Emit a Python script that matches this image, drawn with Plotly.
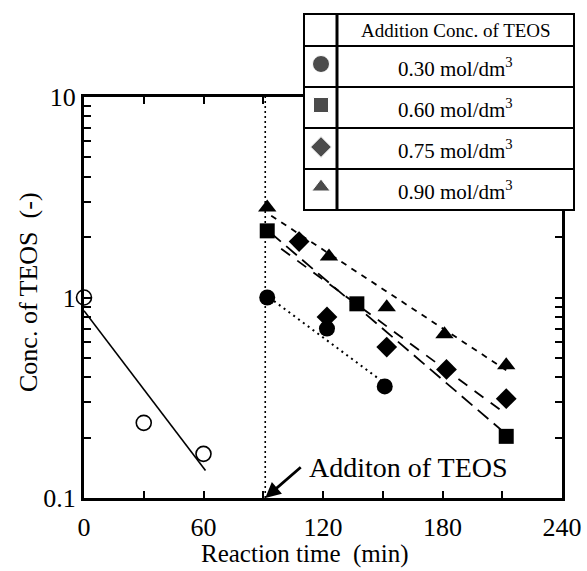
import math
import plotly.graph_objects as go

# ---------------- data ----------------
t_initial = [0, 30, 60]
c_initial = [1.0, 0.237, 0.166]
fit_initial_t = [0, 61]
fit_initial_c = [0.86, 0.137]

addition_t = [91, 91]
addition_c = [0.1, 10]

t_030 = [92, 122, 151]
c_030 = [1.0, 0.70, 0.36]
fit_030_t = [93, 150]
fit_030_c = [1.0, 0.38]

t_060 = [92, 137, 212]
c_060 = [2.15, 0.93, 0.203]
fit_060_t = [93.5, 211.5]
fit_060_c = [2.11, 0.21]

t_075 = [108, 122, 152, 182, 212]
c_075 = [1.90, 0.80, 0.566, 0.438, 0.313]
fit_075_t = [99, 211.5]
fit_075_c = [1.75, 0.264]

t_090 = [92, 123, 152, 181, 212]
c_090 = [2.81, 1.60, 0.895, 0.655, 0.459]
fit_090_t = [94, 212]
fit_090_c = [2.56, 0.434]

x_tick_vals = [0, 60, 120, 180, 240]
x_tick_text = ["0", "60", "120", "180", "240"]
y_tick_vals = [0.1, 1, 10]
y_tick_text = ["0.1", "1", "10"]

legend_header = "Addition Conc. of TEOS"
legend_conc = ["0.30", "0.60", "0.75", "0.90"]
legend_symbols = ["circle", "square", "diamond", "triangle-up"]

x_title = "Reaction time  (min)"
y_title = "Conc. of TEOS  (-)"
note_text = "Additon of TEOS"

# ---------------- figure ----------------
W, H = 587, 571
FONT = "Liberation Serif"
BLACK = "black"

fig = go.Figure()

def line(tx, cy, dash, width=1.6):
    fig.add_trace(go.Scatter(x=tx, y=cy, mode="lines",
                             line=dict(color=BLACK, width=width, dash=dash),
                             showlegend=False, hoverinfo="skip"))

def marks(tx, cy, symbol, size=15, color=BLACK, lw=0):
    fig.add_trace(go.Scatter(x=tx, y=cy, mode="markers",
                             marker=dict(symbol=symbol, size=size, color=color,
                                         line=dict(color=BLACK, width=lw)),
                             showlegend=False, cliponaxis=False))

line(addition_t, addition_c, "2px,3px", 1.6)
line(fit_initial_t, fit_initial_c, "solid", 1.6)
line(fit_030_t, fit_030_c, "2px,4px", 2)
line(fit_060_t, fit_060_c, "14px,7px", 1.8)
line(fit_075_t, fit_075_c, "11px,9px", 1.8)
line(fit_090_t, fit_090_c, "6px,6px", 1.8)

marks(t_initial, c_initial, "circle-open", 15, BLACK, 1.6)
marks(t_030, c_030, "circle", 16)
marks(t_060, c_060, "square", 15)
marks(t_075, c_075, "diamond", 16)
marks(t_090, c_090, "triangle-up", 16)

# legend-table markers on a pixel-coordinate overlay subplot
leg_x = 321
leg_rows = [64, 105, 147, 187]
fig.add_trace(go.Scatter(x=[leg_x] * len(legend_symbols), y=leg_rows, mode="markers",
                         marker=dict(symbol=legend_symbols, size=[17, 15, 16, 16], color=BLACK),
                         xaxis="x2", yaxis="y2", showlegend=False, hoverinfo="skip"))

px0, px1 = 84, 562
py_top, py_bot = 97, 498
y_minor = [m * 10 ** e for e in (-1, 0) for m in range(2, 10)]

fig.update_layout(
    width=W, height=H,
    margin=dict(l=0, r=0, t=0, b=0, autoexpand=False),
    paper_bgcolor="white", plot_bgcolor="rgba(0,0,0,0)",
    font=dict(family=FONT, color=BLACK),
    showlegend=False,
    xaxis=dict(domain=[px0 / W, px1 / W], range=[0, 240],
               tickmode="array", tickvals=x_tick_vals, ticktext=x_tick_text,
               ticks="inside", ticklen=7, tickwidth=2, tickcolor=BLACK,
               minor=dict(dtick=30, tick0=0, ticks="inside", ticklen=7, tickwidth=2, tickcolor=BLACK),
               showline=True, linewidth=3, linecolor=BLACK, mirror="ticks",
               showgrid=False, zeroline=False, ticklabelstandoff=4,
               tickfont=dict(family=FONT, size=26, color=BLACK), anchor="y"),
    yaxis=dict(domain=[(H - py_bot) / H, (H - py_top) / H], type="log", range=[-1, 1],
               tickmode="array", tickvals=y_tick_vals, ticktext=y_tick_text,
               ticks="inside", ticklen=7, tickwidth=2, tickcolor=BLACK,
               minor=dict(tickmode="array", tickvals=y_minor, ticks="inside", ticklen=7,
                          tickwidth=2, tickcolor=BLACK),
               showline=True, linewidth=3, linecolor=BLACK, mirror="ticks",
               showgrid=False, zeroline=False,
               tickfont=dict(family=FONT, size=26, color=BLACK), anchor="x"),
    xaxis2=dict(domain=[0, 1], range=[0, W], visible=False, anchor="y2", fixedrange=True),
    yaxis2=dict(domain=[0, 1], range=[H, 0], visible=False, anchor="x2", fixedrange=True),
)

# legend table (grid drawn in the overlay subplot so it covers the frame)
tl, tdiv, tr = 304, 337, 574
rows_y = [14, 46, 87, 128, 169, 210]
shapes = [dict(type="rect", xref="x2", yref="y2", x0=tl, x1=tr, y0=rows_y[0], y1=rows_y[-1],
               fillcolor="white", line=dict(color=BLACK, width=2), layer="below")]
for yy in rows_y[1:-1]:
    shapes.append(dict(type="line", xref="x2", yref="y2", x0=tl, x1=tr, y0=yy, y1=yy,
                       line=dict(color=BLACK, width=2), layer="below"))
shapes.append(dict(type="line", xref="x2", yref="y2", x0=tdiv, x1=tdiv, y0=rows_y[0], y1=rows_y[-1],
                   line=dict(color=BLACK, width=3), layer="below"))
fig.update_layout(shapes=shapes)

tc = (tdiv + tr) / 2
ann = [dict(x=tc, y=(rows_y[0] + rows_y[1]) / 2, xref="x2", yref="y2", text=legend_header,
            xanchor="center", yanchor="middle",
            showarrow=False, font=dict(family=FONT, size=19, color=BLACK))]
for i, c in enumerate(legend_conc):
    ann.append(dict(x=tc, y=(rows_y[i + 1] + rows_y[i + 2]) / 2 + 1, xref="x2", yref="y2",
                    xanchor="center", yanchor="middle",
                    text=c + " mol/dm<sup>3</sup>", showarrow=False,
                    font=dict(family=FONT, size=21, color=BLACK)))

# axis titles
ann.append(dict(x=305, y=554, xref="x2", yref="y2", text=x_title,
                xanchor="center", yanchor="middle",
                showarrow=False, font=dict(family=FONT, size=25, color=BLACK)))
ann.append(dict(x=28, y=292, xref="x2", yref="y2", text=y_title,
                xanchor="center", yanchor="middle",
                textangle=-90, showarrow=False, font=dict(family=FONT, size=26, color=BLACK)))

# addition note and arrow
ann.append(dict(x=408, y=467, xref="x2", yref="y2", text=note_text, showarrow=False,
                xanchor="center", yanchor="middle",
                font=dict(family=FONT, size=28, color=BLACK)))
ann.append(dict(x=addition_t[0], y=math.log10(addition_c[0]), xref="x", yref="y", text="",
                showarrow=True, arrowhead=2, arrowsize=1.1, arrowwidth=2.8, arrowcolor=BLACK,
                ax=37, ay=-32, standoff=0))
fig.update_layout(annotations=ann)

fig.write_html("out.html", config={"displayModeBar": False},
               post_script="document.body.style.margin='0px';document.body.style.padding='0px';")
